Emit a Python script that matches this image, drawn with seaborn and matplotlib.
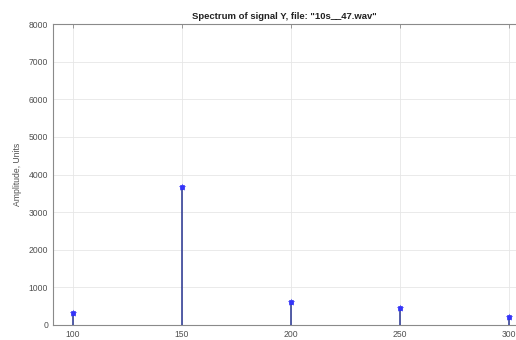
import matplotlib
matplotlib.use("Agg")
import matplotlib.pyplot as plt
import seaborn as sns
import pandas as pd

freqs = [100, 150, 200, 250, 300]
amps = [310, 3680, 600, 450, 210]
xticks = [100, 150, 200, 250, 300]
yticks = [0, 1000, 2000, 3000, 4000, 5000, 6000, 7000, 8000]

sns.set_style("whitegrid")
plt.rcParams['font.family'] = ['Liberation Sans', 'DejaVu Sans']

df = pd.DataFrame({"f": freqs, "a": amps})

fig = plt.figure(figsize=(5.16, 3.40), dpi=100)
ax = fig.add_axes([53/516, 15/340, 463/516, 301/340])

ax.vlines(df["f"], 0, df["a"], color="#26338f", linewidth=1.1, zorder=3)
sns.scatterplot(data=df, x="f", y="a", ax=ax, marker="s", s=7, color="#2020ee",
                edgecolor="#2020ee", linewidth=0.4, zorder=4, legend=False)
sns.scatterplot(data=df, x="f", y="a", ax=ax, marker="*", s=26, color="#3a3aff",
                edgecolor="#3a3aff", linewidth=0.2, alpha=0.8, zorder=5, legend=False)

ax.set_xlim(90.8, 303.2)
ax.set_ylim(0, 8000)
ax.set_xticks(xticks)
ax.set_yticks(yticks)
ax.set_xticklabels([str(v) for v in xticks])
ax.set_yticklabels([str(v) for v in yticks])
ax.grid(True, color="#e6e6e6", linewidth=0.6)
ax.set_axisbelow(True)

for s in ["left", "bottom", "top"]:
    ax.spines[s].set_visible(True)
    ax.spines[s].set_color("#8a8a8a")
    ax.spines[s].set_linewidth(0.8)
ax.spines["right"].set_visible(False)

ax.tick_params(axis="both", direction="in", length=3, width=0.6, color="#8a8a8a",
               labelsize=6.2, labelcolor="#505050", top=True, pad=3.5)

ax.set_title('Spectrum of signal Y, file: "10s__47.wav"', fontsize=6.8,
             fontweight="bold", color="#222222", pad=3.5)
ax.set_ylabel("Amplitude, Units", fontsize=6.2, color="#505050", labelpad=5)
ax.set_xlabel("Frequency, Hz", fontsize=5, color="#707070", labelpad=2)

fig.savefig("out.png", dpi=100)
